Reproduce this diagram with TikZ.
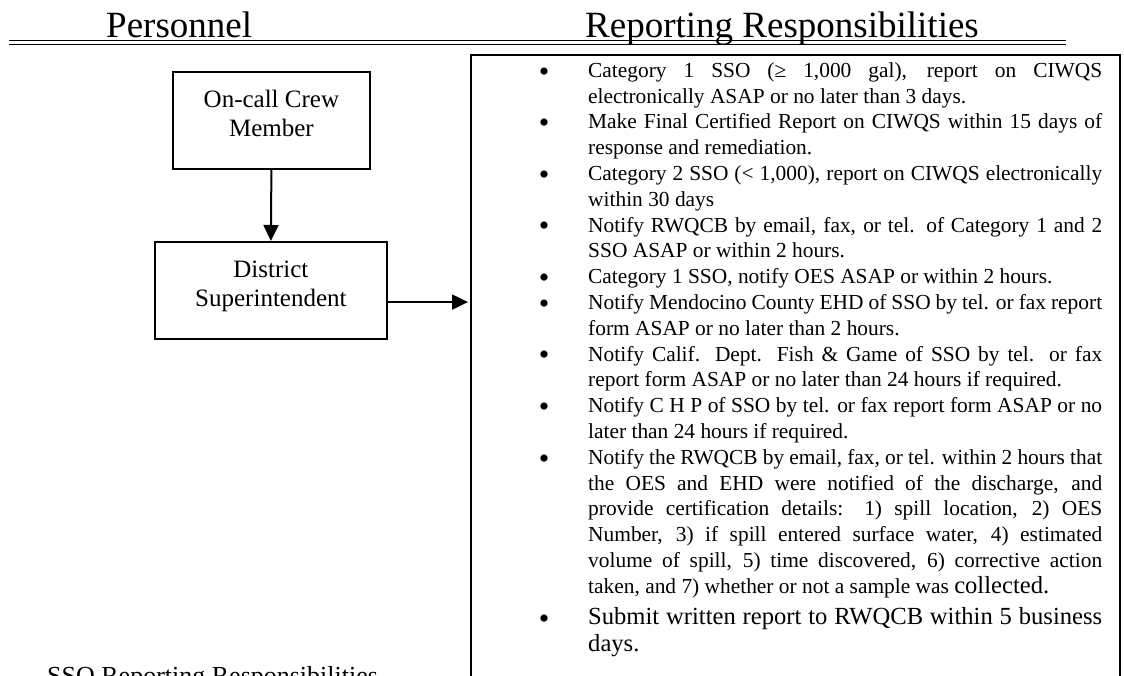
\documentclass[tikz,border=0pt]{standalone}
\usepackage{fontspec}
\setmainfont{Liberation Serif}
\usetikzlibrary{arrows.meta}
\newcommand\jline[1]{\makebox[514pt][s]{#1}}
\newcommand\fstrut{\rule{0pt}{16pt}}
\newcommand\bdepth{\rule[-13pt]{0pt}{13pt}}
\begin{document}
\begin{tikzpicture}[x=1pt,y=-1pt,
  pbox/.style={draw, line width=1.8pt, inner sep=0pt, align=center,
    minimum height=97.3pt, font=\fontsize{25}{29}\selectfont},
  arr/.style={line width=2pt, -{Triangle[length=16pt,width=15pt]}},
  btext/.style={anchor=north west, inner sep=0pt, align=left,
    font=\fontsize{21.4}{25.8}\selectfont},
  bigtext/.style={anchor=north west, inner sep=0pt, align=left,
    font=\fontsize{24.6}{27}\selectfont},
  dot/.style={anchor=base, inner sep=0pt, text height=14pt, text depth=0pt,
    font=\fontsize{30}{32}\selectfont},
  head/.style={anchor=base west, inner sep=0pt, font=\fontsize{37}{40}\selectfont},
  rule1/.style={line width=1.2pt},
  rule2/.style={line width=1pt}
]
\useasboundingbox (0,0) rectangle (1124,675);
\clip (0,0) rectangle (1124,675);

% headings
\node[head] (hp) at (106,37) {Personnel};
\node[head] (hr) at (585,37) {Reporting Responsibilities};
\draw[rule1] (9,40.7) -- (1066,40.7);
\draw[rule2] (9,44.3) -- (1066,44.3);

% personnel boxes
\node[pbox, minimum width=197pt, anchor=north west] (ocm) at (172,70.7)
  {On-call Crew\\Member\bdepth};
\node[pbox, minimum width=232pt, anchor=north west] (ds) at (154,241)
  {District\\Superintendent\bdepth};

% big box
\node[draw, line width=2pt, inner sep=0pt, minimum width=649pt,
  minimum height=680pt, anchor=north west] (big) at (470,54) {};

% connectors
\draw[arr] (ocm.south) -- (ds.north);
\draw[arr, shorten >=2pt] ([yshift=-11.5pt]ds.east) -- ([yshift=-11.5pt]ds.east -| big.west);

% bullets
\node[dot] (d1) at (544,81) {•};
\node[btext] (b1) at (588,61) {\fstrut\jline{Category 1 SSO (≥ 1,000 gal), report on CIWQS}\\
electronically ASAP or no later than 3 days.};

\node[dot] (d2) at (544,132.6) {•};
\node[btext] (b2) at (588,112.6) {\fstrut\jline{Make Final Certified Report on CIWQS within 15 days of}\\
response and remediation.};

\node[dot] (d3) at (544,184.2) {•};
\node[btext] (b3) at (588,164.2) {\fstrut\jline{Category 2 SSO (< 1,000), report on CIWQS electronically}\\
within 30 days};

\node[dot] (d4) at (544,235.8) {•};
\node[btext] (b4) at (588,215.8) {\fstrut\jline{Notify RWQCB by email, fax, or tel. of Category 1 and 2}\\
SSO ASAP or within 2 hours.};

\node[dot] (d5) at (544,287.4) {•};
\node[btext] (b5) at (588,267.4) {\fstrut Category 1 SSO, notify OES ASAP or within 2 hours.};

\node[dot] (d6) at (544,313.2) {•};
\node[btext] (b6) at (588,293.2) {\fstrut\jline{Notify Mendocino County EHD of SSO by tel. or fax report}\\
form ASAP or no later than 2 hours.};

\node[dot] (d7) at (544,364.8) {•};
\node[btext] (b7) at (588,344.8) {\fstrut\jline{Notify Calif. Dept. Fish \& Game of SSO by tel. or fax}\\
report form ASAP or no later than 24 hours if required.};

\node[dot] (d8) at (544,416.4) {•};
\node[btext] (b8) at (588,396.4) {\fstrut\jline{Notify C H P of SSO by tel. or fax report form ASAP or no}\\
later than 24 hours if required.};

\node[dot] (d9) at (544,468) {•};
\node[btext] (b9) at (588,448) {\fstrut\jline{Notify the RWQCB by email, fax, or tel. within 2 hours that}\\
\jline{the OES and EHD were notified of the discharge, and}\\
\jline{provide certification details: 1) spill location, 2) OES}\\
\jline{Number, 3) if spill entered surface water, 4) estimated}\\
\jline{volume of spill, 5) time discovered, 6) corrective action}\\
taken, and 7) whether or not a sample was {\fontsize{24.6}{25.8}\selectfont collected.}};

\node[dot] (d10) at (544,628) {•};
\node[bigtext] (b10) at (588,606) {\rule{0pt}{18pt}\jline{Submit written report to RWQCB within 5 business}\\
days.};

% caption at bottom (cut off, as in the reference)
\node[anchor=base west, inner sep=0pt, font=\fontsize{26}{30}\selectfont] (cap) at (47,684)
  {SSO Reporting Responsibilities};
\end{tikzpicture}
\end{document}
